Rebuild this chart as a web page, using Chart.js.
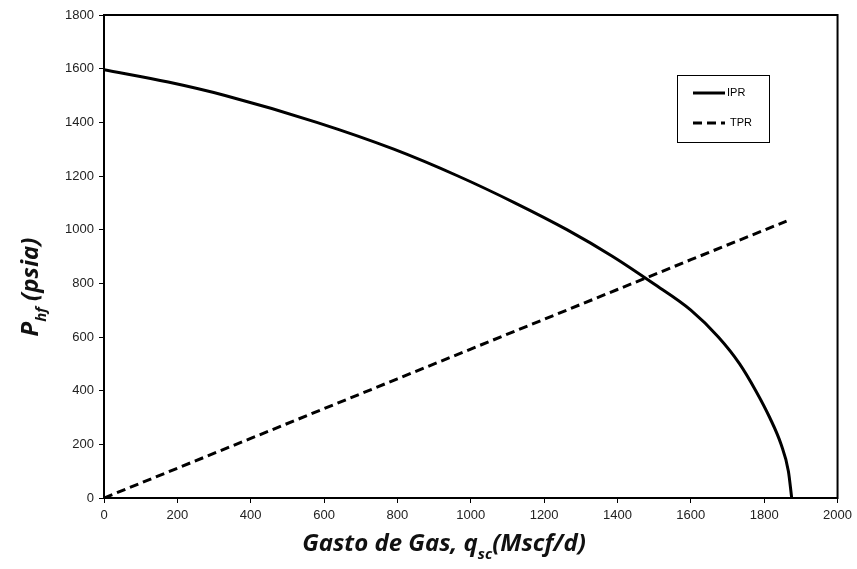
<!DOCTYPE html>
<html>
<head>
<meta charset="utf-8">
<script src="https://cdn.jsdelivr.net/npm/chart.js@4"></script>
<style>
  html, body { margin: 0; padding: 0; background: #fff; }
  #wrap { width: 857px; height: 569px; }
</style>
</head>
<body>
<div id="wrap"><canvas id="ipr"></canvas></div>
<script>
// IPR: curva de afluencia
const qIPR = [0, 175, 330, 580, 790, 965, 1120, 1262, 1387, 1497, 1600, 1675, 1733, 1777, 1815, 1846, 1866, 1875];
const pIPR = [1596, 1550, 1500, 1400, 1300, 1200, 1100, 1000, 900, 800, 700, 600, 500, 400, 300, 200, 100, 0];

// TPR: curva de la tubería
const qTPR = [0, 200, 400, 600, 800, 1000, 1200, 1400, 1600, 1861];
const pTPR = [0, 111, 222, 333, 444, 555, 666, 777, 888, 1032];

const xTicks = [0, 200, 400, 600, 800, 1000, 1200, 1400, 1600, 1800, 2000];
const yTicks = [0, 200, 400, 600, 800, 1000, 1200, 1400, 1600, 1800];

const titleFont = 'italic bold 24px "Open Sans"';
const subFont = 'italic bold 15px "Open Sans"';

function drawParts(ctx, parts, x, y) {
    // texto centrado con subíndices
    let total = 0;
    parts.forEach(p => {
        ctx.font = p.sub ? subFont : titleFont;
        p.w = ctx.measureText(p.t).width;
        total += p.w;
    });
    let cx = x - total / 2;
    parts.forEach(p => {
        ctx.font = p.sub ? subFont : titleFont;
        ctx.fillText(p.t, cx, p.sub ? y + 8 : y);
        cx += p.w;
    });
}

const framePlugin = {
    id: 'frame',
    afterDraw(chart) {
        const ctx = chart.ctx;
        const a = chart.chartArea;
        ctx.save();
        // marco del área de gráfica
        ctx.strokeStyle = '#000';
        ctx.lineWidth = 2;
        ctx.strokeRect(a.left, a.top, a.right - a.left, a.bottom - a.top);

        // leyenda
        ctx.lineWidth = 1;
        ctx.strokeRect(677.5, 75.5, 92, 67);
        ctx.font = '11px Arial';
        ctx.fillStyle = '#000';
        ctx.textBaseline = 'middle';
        const ds = chart.data.datasets;
        [[ds[0], 93], [ds[1], 123]].forEach(([d, ly]) => {
            ctx.beginPath();
            ctx.lineWidth = 3;
            ctx.setLineDash(d.borderDash || []);
            ctx.moveTo(693, ly);
            ctx.lineTo(725, ly);
            ctx.stroke();
            ctx.setLineDash([]);
            ctx.fillText(d.label, d.label === 'IPR' ? 727 : 730, ly);
        });

        // títulos de ejes
        ctx.fillStyle = '#111';
        ctx.textBaseline = 'alphabetic';
        drawParts(ctx, [{t: 'Gasto de Gas, q'}, {t: 'sc', sub: true}, {t: '(Mscf/d)'}], 444, 551);
        ctx.translate(38, 287);
        ctx.rotate(-Math.PI / 2);
        drawParts(ctx, [{t: 'P'}, {t: 'hf', sub: true}, {t: ' (psia)'}], 0, 0);
        ctx.restore();
    }
};

const ctx = document.getElementById('ipr').getContext('2d');
new Chart(ctx, {
    type: 'line',
    data: {
        datasets: [{
            label: 'IPR',
            data: qIPR.map((q, i) => ({x: q, y: pIPR[i]})),
            borderColor: '#000',
            borderWidth: 3,
            pointRadius: 0,
            cubicInterpolationMode: 'monotone',
            fill: false
        }, {
            label: 'TPR',
            data: qTPR.map((q, i) => ({x: q, y: pTPR[i]})),
            borderColor: '#000',
            borderWidth: 3,
            borderDash: [9, 5],
            pointRadius: 0,
            fill: false
        }]
    },
    options: {
        responsive: true,
        maintainAspectRatio: false,
        animation: false,
        layout: { padding: { left: 0, right: 19, top: 15, bottom: 0 } },
        plugins: {
            legend: { display: false },
            tooltip: { enabled: false }
        },
        scales: {
            x: {
                type: 'linear',
                min: 0,
                max: 2000,
                afterFit: s => { s.height = 71; },
                afterBuildTicks: s => { s.ticks = xTicks.map(v => ({value: v})); },
                ticks: { font: { family: 'Arial', size: 13 }, color: '#222', padding: 5, maxRotation: 0, callback: v => String(v) },
                grid: { display: true, drawOnChartArea: false, drawTicks: true, tickLength: 5, color: '#000' },
                border: { display: true, color: '#000', width: 2 }
            },
            y: {
                type: 'linear',
                min: 0,
                max: 1800,
                afterFit: s => { s.width = 104; },
                afterBuildTicks: s => { s.ticks = yTicks.map(v => ({value: v})); },
                ticks: { font: { family: 'Arial', size: 13 }, color: '#222', padding: 5, callback: v => String(v) },
                grid: { display: true, drawOnChartArea: false, drawTicks: true, tickLength: 5, color: '#000' },
                border: { display: true, color: '#000', width: 2 }
            }
        }
    },
    plugins: [framePlugin]
});
</script>
</body>
</html>
